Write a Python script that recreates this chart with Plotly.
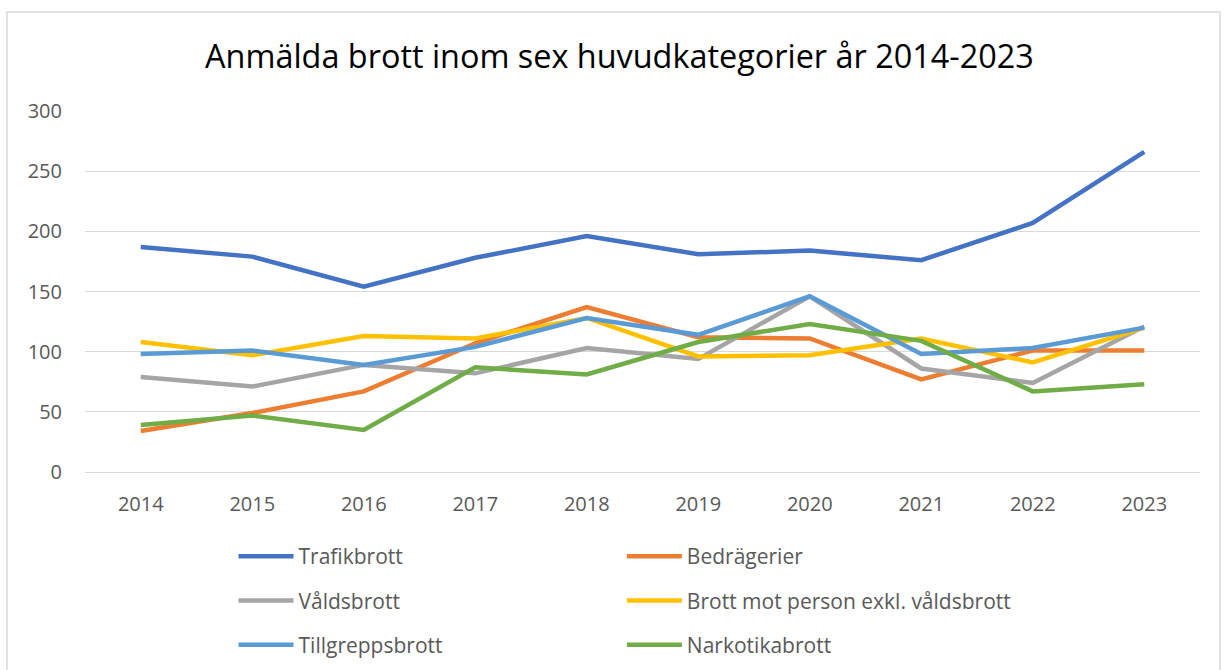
import plotly.graph_objects as go

years = ["2014", "2015", "2016", "2017", "2018", "2019", "2020", "2021", "2022", "2023"]
trafikbrott = [187, 179, 154, 178, 196, 181, 184, 176, 207, 266]
bedragerier = [34, 49, 67, 107, 137, 112, 111, 77, 101, 101]
valdsbrott = [79, 71, 89, 82, 103, 94, 146, 86, 74, 121]
brott_mot_person = [108, 97, 113, 111, 128, 96, 97, 111, 91, 120]
tillgreppsbrott = [98, 101, 89, 104, 128, 114, 146, 98, 103, 120]
narkotikabrott = [39, 47, 35, 87, 81, 108, 123, 109, 67, 73]

series = [
    ("Trafikbrott", trafikbrott, "#4472C4", "legend"),
    ("Bedrägerier", bedragerier, "#ED7D31", "legend2"),
    ("Våldsbrott", valdsbrott, "#A5A5A5", "legend"),
    ("Brott mot person exkl. våldsbrott", brott_mot_person, "#FFC000", "legend2"),
    ("Tillgreppsbrott", tillgreppsbrott, "#5B9BD5", "legend"),
    ("Narkotikabrott", narkotikabrott, "#70AD47", "legend2"),
]

FONT = "'Open Sans', 'Noto Sans', sans-serif"

fig = go.Figure()
for name, vals, color, lg in series:
    fig.add_trace(go.Scatter(
        x=years, y=vals, name=name, mode="lines",
        line=dict(color=color, width=4.5),
        legend=lg, legendgroup=name,
    ))

legend_common = dict(
    orientation="v", yanchor="top", xanchor="left",
    xref="container", yref="container",
    font=dict(family=FONT, size=21, color="#595959"),
    bgcolor="rgba(0,0,0,0)", tracegroupgap=14, itemwidth=55,
)

fig.update_layout(
    width=1229, height=670,
    paper_bgcolor="white", plot_bgcolor="white",
    margin=dict(l=85, r=29, t=111, b=198, autoexpand=False),
    title=dict(text="Anmälda brott inom sex huvudkategorier år 2014-2023",
               x=0.504, xanchor="center", y=0.915, yanchor="middle",
               font=dict(family=FONT, size=32.4, color="#000000")),
    font=dict(family=FONT, color="#595959"),
    xaxis=dict(type="category", range=[-0.5, 9.5], showgrid=False,
               showline=True, linecolor="#D9D9D9", linewidth=1,
               ticks="", ticklabelstandoff=14,
               tickfont=dict(size=20, color="#595959"), fixedrange=True),
    yaxis=dict(range=[0, 300], dtick=50, showgrid=True, gridcolor="#D9D9D9",
               gridwidth=1, zeroline=True, zerolinecolor="#D9D9D9",
               ticks="", ticklabelstandoff=22,
               tickfont=dict(size=20, color="#595959"), fixedrange=True),
    legend=dict(x=0.19, y=0.2, **legend_common),
    legend2=dict(x=0.506, y=0.2, **legend_common),
    showlegend=True,
    shapes=[dict(type="rect", xref="paper", yref="paper",
                 x0=-0.070, x1=1.018, y0=-0.6, y1=1.274,
                 line=dict(color="#D9D9D9", width=1.5), fillcolor="rgba(0,0,0,0)",
                 layer="below")],
)

fig.write_html("out.html", config={"displayModeBar": False},
               post_script="document.body.style.margin='0';")
